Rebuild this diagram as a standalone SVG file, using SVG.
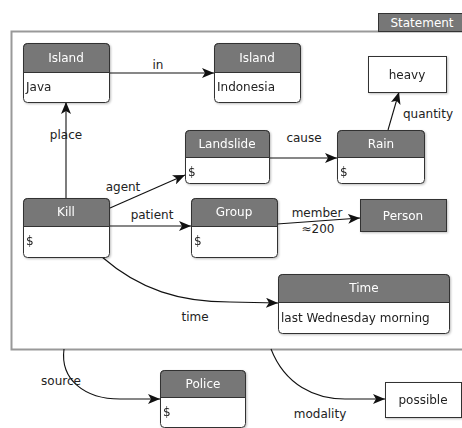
<svg xmlns="http://www.w3.org/2000/svg" width="462" height="428" viewBox="0 0 462 428">
<style>
text{font-family:"DejaVu Sans","Liberation Sans",sans-serif;font-size:12px;fill:#222}
.h{fill:#fff;text-anchor:middle}
.c{text-anchor:middle}
.box{fill:#fff;stroke:#333;stroke-width:1}
.hd{fill:#777;stroke:#333;stroke-width:1}
.e{fill:none;stroke:#111;stroke-width:1.1}
</style>
<defs>
<marker id="a" viewBox="0 0 12 10" refX="12" refY="5" markerWidth="12" markerHeight="10" markerUnits="userSpaceOnUse" orient="auto">
<path d="M0,0 L12,5 L0,10 L3,5 Z" fill="#111"/>
</marker>
<filter id="s" x="-10%" y="-10%" width="130%" height="130%"><feDropShadow dx="1" dy="1" stdDeviation="1" flood-opacity="0.25"/></filter>
</defs>
<g id="statement">
<rect x="11.5" y="31.5" width="460" height="318" fill="#fff" stroke="#999" stroke-width="2"/>
<rect x="378.5" y="13.5" width="90" height="18" fill="#777" stroke="#333"/>
<text x="422" y="26.5" class="h" font-size="11">Statement</text>
</g>
<g id="edges">
<path class="e" d="M109,73 H214" marker-end="url(#a)"/>
<text x="158" y="69" class="c">in</text>
<path class="e" d="M66,198 V102" marker-end="url(#a)"/>
<text x="66" y="139" class="c">place</text>
<path class="e" d="M110,208 L185,175" marker-end="url(#a)"/>
<text x="123" y="191" class="c">agent</text>
<path class="e" d="M109,226 H191" marker-end="url(#a)"/>
<text x="152" y="219" class="c">patient</text>
<path class="e" d="M269,158 H337" marker-end="url(#a)"/>
<text x="304" y="142" class="c">cause</text>
<path class="e" d="M388,130 L399,92" marker-end="url(#a)"/>
<text x="428" y="118" class="c">quantity</text>
<path class="e" d="M277,224 L360,218" marker-end="url(#a)"/>
<text x="317" y="217" class="c">member</text>
<text x="318" y="233" class="c">≈200</text>
<path class="e" d="M102,257 C140,290 180,302 230,302 L278,303" marker-end="url(#a)"/>
<text x="195" y="321" class="c">time</text>
<path class="e" d="M64,349 C60,380 85,399 120,399 L160,399" marker-end="url(#a)"/>
<text x="61" y="385" class="c">source</text>
<path class="e" d="M271,349 C285,385 315,399 345,399 L385,399" marker-end="url(#a)"/>
<text x="320" y="418" class="c">modality</text>
</g>
<g id="java" filter="url(#s)">
<rect class="box" x="23.5" y="43.5" width="86" height="59" rx="4"/>
<path class="hd" d="M23.5,72.5 V47.5 a4,4 0 0 1 4,-4 H105.5 a4,4 0 0 1 4,4 V72.5 Z"/>
<text x="66" y="62" class="h">Island</text>
<text x="26" y="91">Java</text>
</g>
<g id="indonesia" filter="url(#s)">
<rect class="box" x="214.5" y="43.5" width="86" height="59" rx="4"/>
<path class="hd" d="M214.5,72.5 V47.5 a4,4 0 0 1 4,-4 H296.5 a4,4 0 0 1 4,4 V72.5 Z"/>
<text x="257" y="62" class="h">Island</text>
<text x="217" y="91">Indonesia</text>
</g>
<g id="heavy" filter="url(#s)">
<rect class="box" x="368.5" y="56.5" width="78" height="36"/>
<text x="407" y="79" class="c">heavy</text>
</g>
<g id="landslide" filter="url(#s)">
<rect class="box" x="185.5" y="130.5" width="84" height="53" rx="4"/>
<path class="hd" d="M185.5,157.5 V134.5 a4,4 0 0 1 4,-4 H265.5 a4,4 0 0 1 4,4 V157.5 Z"/>
<text x="227" y="148" class="h">Landslide</text>
<text x="188" y="176">$</text>
</g>
<g id="rain" filter="url(#s)">
<rect class="box" x="337.5" y="130.5" width="87" height="53" rx="4"/>
<path class="hd" d="M337.5,157.5 V134.5 a4,4 0 0 1 4,-4 H420.5 a4,4 0 0 1 4,4 V157.5 Z"/>
<text x="381" y="148" class="h">Rain</text>
<text x="340" y="176">$</text>
</g>
<g id="kill" filter="url(#s)">
<rect class="box" x="23.5" y="198.5" width="86" height="59" rx="4"/>
<path class="hd" d="M23.5,226.5 V202.5 a4,4 0 0 1 4,-4 H105.5 a4,4 0 0 1 4,4 V226.5 Z"/>
<text x="66" y="216" class="h">Kill</text>
<text x="26" y="245">$</text>
</g>
<g id="group" filter="url(#s)">
<rect class="box" x="191.5" y="198.5" width="86" height="59" rx="4"/>
<path class="hd" d="M191.5,226.5 V202.5 a4,4 0 0 1 4,-4 H273.5 a4,4 0 0 1 4,4 V226.5 Z"/>
<text x="234" y="216" class="h">Group</text>
<text x="194" y="245">$</text>
</g>
<g id="person" filter="url(#s)">
<rect class="hd" x="360.5" y="199.5" width="86" height="32"/>
<text x="403" y="220" class="h">Person</text>
</g>
<g id="time" filter="url(#s)">
<rect class="box" x="278.5" y="274.5" width="171" height="59" rx="4"/>
<path class="hd" d="M278.5,302.5 V278.5 a4,4 0 0 1 4,-4 H445.5 a4,4 0 0 1 4,4 V302.5 Z"/>
<text x="364" y="292" class="h">Time</text>
<text x="281" y="322">last Wednesday morning</text>
</g>
<g id="police" filter="url(#s)">
<rect class="box" x="160.5" y="370.5" width="85" height="57" rx="4"/>
<path class="hd" d="M160.5,397.5 V374.5 a4,4 0 0 1 4,-4 H241.5 a4,4 0 0 1 4,4 V397.5 Z"/>
<text x="203" y="388" class="h">Police</text>
<text x="163" y="416">$</text>
</g>
<g id="possible" filter="url(#s)">
<rect class="box" x="385.5" y="382.5" width="76" height="35"/>
<text x="423" y="404" class="c">possible</text>
</g>
</svg>
